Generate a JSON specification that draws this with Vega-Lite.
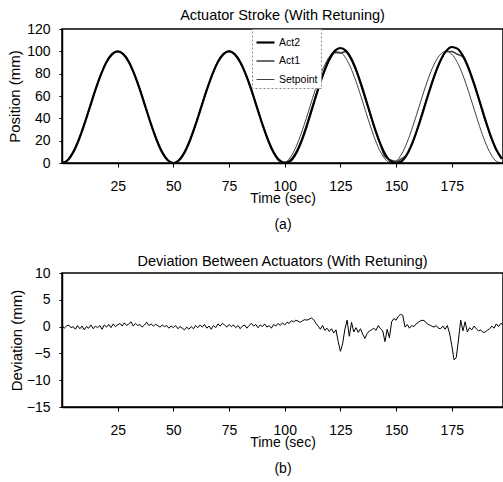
{
  "$schema": "https://vega.github.io/schema/vega-lite/v6.json",
  "autosize": {"type": "pad"},
  "padding": {"left": 6, "top": 6, "right": 0, "bottom": 0},
  "background": "white",
  "bounds": "flush",
  "spacing": 110,
  "config": {
    "font": "Liberation Sans",
    "view": {"stroke": "black", "strokeWidth": 1.5},
    "axis": {
      "grid": false, "domainColor": "black", "domainWidth": 1.5, "tickColor": "black",
      "labelColor": "black", "titleColor": "black", "labelFontSize": 14, "titleFontSize": 14,
      "titleFontWeight": "normal", "labelFont": "Liberation Sans", "titleFont": "Liberation Sans"
    },
    "axisX": {"tickSize": 4, "labelPadding": 12, "titleBaseline": "top", "titleY": 28, "titleLineHeight": 26, "labelFlush": false},
    "axisY": {"tickSize": 3, "labelPadding": 9, "titleBaseline": "middle", "titleFontSize": 15},
    "title": {"font": "Liberation Sans", "fontSize": 14.5, "fontWeight": "normal", "color": "black", "frame": "group", "baseline": "alphabetic"}
  },
  "datasets": {
    "stroke": [
      {"t":0,"s":"Setpoint","v":0},{"t":2.5,"s":"Setpoint","v":2.4},{"t":5,"s":"Setpoint","v":9.5},{"t":7.5,"s":"Setpoint","v":20.6},{"t":10,"s":"Setpoint","v":34.5},{"t":12.5,"s":"Setpoint","v":50},{"t":15,"s":"Setpoint","v":65.5},{"t":17.5,"s":"Setpoint","v":79.4},{"t":20,"s":"Setpoint","v":90.5},{"t":22.5,"s":"Setpoint","v":97.5},
      {"t":25,"s":"Setpoint","v":100},{"t":27.5,"s":"Setpoint","v":97.5},{"t":30,"s":"Setpoint","v":90.5},{"t":32.5,"s":"Setpoint","v":79.4},{"t":35,"s":"Setpoint","v":65.5},{"t":37.5,"s":"Setpoint","v":50},{"t":40,"s":"Setpoint","v":34.5},{"t":42.5,"s":"Setpoint","v":20.6},{"t":45,"s":"Setpoint","v":9.5},{"t":47.5,"s":"Setpoint","v":2.4},
      {"t":50,"s":"Setpoint","v":0},{"t":52.5,"s":"Setpoint","v":2.4},{"t":55,"s":"Setpoint","v":9.5},{"t":57.5,"s":"Setpoint","v":20.6},{"t":60,"s":"Setpoint","v":34.5},{"t":62.5,"s":"Setpoint","v":50},{"t":65,"s":"Setpoint","v":65.5},{"t":67.5,"s":"Setpoint","v":79.4},{"t":70,"s":"Setpoint","v":90.5},{"t":72.5,"s":"Setpoint","v":97.5},
      {"t":75,"s":"Setpoint","v":100},{"t":77.5,"s":"Setpoint","v":97.5},{"t":80,"s":"Setpoint","v":90.5},{"t":82.5,"s":"Setpoint","v":79.4},{"t":85,"s":"Setpoint","v":65.5},{"t":87.5,"s":"Setpoint","v":50},{"t":90,"s":"Setpoint","v":34.5},{"t":92.5,"s":"Setpoint","v":20.6},{"t":95,"s":"Setpoint","v":9.5},{"t":97.5,"s":"Setpoint","v":2.4},
      {"t":100,"s":"Setpoint","v":0.4},{"t":102.5,"s":"Setpoint","v":5.0},{"t":105,"s":"Setpoint","v":14.1},{"t":107.5,"s":"Setpoint","v":26.9},{"t":110,"s":"Setpoint","v":42.0},{"t":112.5,"s":"Setpoint","v":58.0},{"t":115,"s":"Setpoint","v":73.1},{"t":117.5,"s":"Setpoint","v":85.9},{"t":120,"s":"Setpoint","v":95.1},{"t":122.5,"s":"Setpoint","v":99.6},
      {"t":125,"s":"Setpoint","v":99.1},{"t":127.5,"s":"Setpoint","v":93.6},{"t":130,"s":"Setpoint","v":83.6},{"t":132.5,"s":"Setpoint","v":70.2},{"t":135,"s":"Setpoint","v":54.8},{"t":137.5,"s":"Setpoint","v":38.9},{"t":140,"s":"Setpoint","v":24.1},{"t":142.5,"s":"Setpoint","v":11.9},{"t":145,"s":"Setpoint","v":3.7},{"t":147.5,"s":"Setpoint","v":0.1},
      {"t":150,"s":"Setpoint","v":1.6},{"t":152.5,"s":"Setpoint","v":8.1},{"t":155,"s":"Setpoint","v":18.8},{"t":157.5,"s":"Setpoint","v":32.7},{"t":160,"s":"Setpoint","v":48.4},{"t":162.5,"s":"Setpoint","v":64.2},{"t":165,"s":"Setpoint","v":78.6},{"t":167.5,"s":"Setpoint","v":90.1},{"t":170,"s":"Setpoint","v":97.5},{"t":172.5,"s":"Setpoint","v":100},
      {"t":175,"s":"Setpoint","v":97.5},{"t":177.5,"s":"Setpoint","v":90.1},{"t":180,"s":"Setpoint","v":78.6},{"t":182.5,"s":"Setpoint","v":64.2},{"t":185,"s":"Setpoint","v":48.4},{"t":187.5,"s":"Setpoint","v":32.7},{"t":190,"s":"Setpoint","v":18.8},{"t":192.5,"s":"Setpoint","v":8.1},{"t":195,"s":"Setpoint","v":1.6},{"t":197.5,"s":"Setpoint","v":0.1},

      {"t":0,"s":"Act1","v":0.3},{"t":2.5,"s":"Act1","v":2.2},{"t":5,"s":"Act1","v":9.6},{"t":7.5,"s":"Act1","v":20.4},{"t":10,"s":"Act1","v":34.7},{"t":12.5,"s":"Act1","v":49.8},{"t":15,"s":"Act1","v":65.6},{"t":17.5,"s":"Act1","v":79.2},{"t":20,"s":"Act1","v":90.6},{"t":22.5,"s":"Act1","v":97.3},
      {"t":25,"s":"Act1","v":99.8},{"t":27.5,"s":"Act1","v":97.8},{"t":30,"s":"Act1","v":90.7},{"t":32.5,"s":"Act1","v":79.7},{"t":35,"s":"Act1","v":65.9},{"t":37.5,"s":"Act1","v":50.3},{"t":40,"s":"Act1","v":34.8},{"t":42.5,"s":"Act1","v":20.8},{"t":45,"s":"Act1","v":9.5},{"t":47.5,"s":"Act1","v":2.5},
      {"t":50,"s":"Act1","v":0},{"t":52.5,"s":"Act1","v":2.1},{"t":55,"s":"Act1","v":9.1},{"t":57.5,"s":"Act1","v":20.3},{"t":60,"s":"Act1","v":34.6},{"t":62.5,"s":"Act1","v":50.2},{"t":65,"s":"Act1","v":65.4},{"t":67.5,"s":"Act1","v":79.1},{"t":70,"s":"Act1","v":90.9},{"t":72.5,"s":"Act1","v":97.8},
      {"t":75,"s":"Act1","v":100.2},{"t":77.5,"s":"Act1","v":97.3},{"t":80,"s":"Act1","v":90.2},{"t":82.5,"s":"Act1","v":79.6},{"t":85,"s":"Act1","v":66.0},{"t":87.5,"s":"Act1","v":50.2},{"t":90,"s":"Act1","v":34.5},{"t":92.5,"s":"Act1","v":20.8},{"t":95,"s":"Act1","v":9.6},{"t":97.5,"s":"Act1","v":3.0},
      {"t":100,"s":"Act1","v":0.5},{"t":102.5,"s":"Act1","v":2.7},{"t":105,"s":"Act1","v":9.5},{"t":107.5,"s":"Act1","v":20.4},{"t":110,"s":"Act1","v":35.0},{"t":112.5,"s":"Act1","v":51.4},{"t":115,"s":"Act1","v":66.5},{"t":117.5,"s":"Act1","v":80.4},{"t":120,"s":"Act1","v":92.0},{"t":122.5,"s":"Act1","v":98.9},
      {"t":125,"s":"Act1","v":98.5},{"t":127.5,"s":"Act1","v":99.9},{"t":130,"s":"Act1","v":92.3},{"t":132.5,"s":"Act1","v":80.4},{"t":135,"s":"Act1","v":64.7},{"t":137.5,"s":"Act1","v":49.1},{"t":140,"s":"Act1","v":33.1},{"t":142.5,"s":"Act1","v":19.2},{"t":145,"s":"Act1","v":5.8},{"t":147.5,"s":"Act1","v":2.7},
      {"t":150,"s":"Act1","v":1.5},{"t":152.5,"s":"Act1","v":3.9},{"t":155,"s":"Act1","v":7.9},{"t":157.5,"s":"Act1","v":18.9},{"t":160,"s":"Act1","v":33.4},{"t":162.5,"s":"Act1","v":49.8},{"t":165,"s":"Act1","v":65.2},{"t":167.5,"s":"Act1","v":79.7},{"t":170,"s":"Act1","v":91.8},{"t":172.5,"s":"Act1","v":99.9},
      {"t":175,"s":"Act1","v":99.9},{"t":177.5,"s":"Act1","v":97.4},{"t":180,"s":"Act1","v":95.1},{"t":182.5,"s":"Act1","v":84.6},{"t":185,"s":"Act1","v":70.6},{"t":187.5,"s":"Act1","v":54.6},{"t":190,"s":"Act1","v":38.1},{"t":192.5,"s":"Act1","v":23.8},{"t":195,"s":"Act1","v":12.1},{"t":197.5,"s":"Act1","v":4.1},

      {"t":0,"s":"Act2","v":0},{"t":2.5,"s":"Act2","v":2.4},{"t":5,"s":"Act2","v":9.5},{"t":7.5,"s":"Act2","v":20.6},{"t":10,"s":"Act2","v":34.5},{"t":12.5,"s":"Act2","v":50},{"t":15,"s":"Act2","v":65.5},{"t":17.5,"s":"Act2","v":79.4},{"t":20,"s":"Act2","v":90.5},{"t":22.5,"s":"Act2","v":97.5},
      {"t":25,"s":"Act2","v":100},{"t":27.5,"s":"Act2","v":97.5},{"t":30,"s":"Act2","v":90.5},{"t":32.5,"s":"Act2","v":79.4},{"t":35,"s":"Act2","v":65.5},{"t":37.5,"s":"Act2","v":50},{"t":40,"s":"Act2","v":34.5},{"t":42.5,"s":"Act2","v":20.6},{"t":45,"s":"Act2","v":9.5},{"t":47.5,"s":"Act2","v":2.4},
      {"t":50,"s":"Act2","v":0},{"t":52.5,"s":"Act2","v":2.4},{"t":55,"s":"Act2","v":9.5},{"t":57.5,"s":"Act2","v":20.6},{"t":60,"s":"Act2","v":34.5},{"t":62.5,"s":"Act2","v":50},{"t":65,"s":"Act2","v":65.5},{"t":67.5,"s":"Act2","v":79.4},{"t":70,"s":"Act2","v":90.5},{"t":72.5,"s":"Act2","v":97.5},
      {"t":75,"s":"Act2","v":100},{"t":77.5,"s":"Act2","v":97.5},{"t":80,"s":"Act2","v":90.5},{"t":82.5,"s":"Act2","v":79.4},{"t":85,"s":"Act2","v":65.5},{"t":87.5,"s":"Act2","v":50},{"t":90,"s":"Act2","v":34.5},{"t":92.5,"s":"Act2","v":20.6},{"t":95,"s":"Act2","v":9.5},{"t":97.5,"s":"Act2","v":2.4},
      {"t":100,"s":"Act2","v":0.2},{"t":102.5,"s":"Act2","v":1.7},{"t":105,"s":"Act2","v":8.3},{"t":107.5,"s":"Act2","v":19.4},{"t":110,"s":"Act2","v":33.7},{"t":112.5,"s":"Act2","v":49.9},{"t":115,"s":"Act2","v":66.2},{"t":117.5,"s":"Act2","v":81.0},{"t":120,"s":"Act2","v":92.8},{"t":122.5,"s":"Act2","v":100.4},
      {"t":125,"s":"Act2","v":103},{"t":127.5,"s":"Act2","v":100.4},{"t":130,"s":"Act2","v":92.8},{"t":132.5,"s":"Act2","v":81.0},{"t":135,"s":"Act2","v":66.2},{"t":137.5,"s":"Act2","v":49.9},{"t":140,"s":"Act2","v":33.7},{"t":142.5,"s":"Act2","v":19.4},{"t":145,"s":"Act2","v":8.3},{"t":147.5,"s":"Act2","v":1.7},
      {"t":150,"s":"Act2","v":0},{"t":152.5,"s":"Act2","v":1.6},{"t":155,"s":"Act2","v":8.1},{"t":157.5,"s":"Act2","v":18.9},{"t":160,"s":"Act2","v":32.9},{"t":162.5,"s":"Act2","v":48.7},{"t":165,"s":"Act2","v":64.9},{"t":167.5,"s":"Act2","v":79.9},{"t":170,"s":"Act2","v":92.1},{"t":172.5,"s":"Act2","v":100.4},
      {"t":175,"s":"Act2","v":103.9},{"t":177.5,"s":"Act2","v":102.4},{"t":180,"s":"Act2","v":95.9},{"t":182.5,"s":"Act2","v":85.1},{"t":185,"s":"Act2","v":71.1},{"t":187.5,"s":"Act2","v":55.3},{"t":190,"s":"Act2","v":39.1},{"t":192.5,"s":"Act2","v":24.1},{"t":195,"s":"Act2","v":11.9},{"t":197.5,"s":"Act2","v":3.7}
    ],
    "dev": [
      {"t":0,"d":0.2},{"t":1,"d":-0.3},{"t":2,"d":0.1},{"t":3,"d":0.3},{"t":4,"d":-0.2},{"t":5,"d":0.0},{"t":6,"d":-0.5},{"t":7,"d":0.2},{"t":8,"d":-0.4},{"t":9,"d":0.1},
      {"t":10,"d":-0.6},{"t":11,"d":0.0},{"t":12,"d":-0.3},{"t":13,"d":0.3},{"t":14,"d":-0.4},{"t":15,"d":0.1},{"t":16,"d":-0.2},{"t":17,"d":0.2},{"t":18,"d":-0.5},{"t":19,"d":0.3},
      {"t":20,"d":-0.1},{"t":21,"d":0.4},{"t":22,"d":-0.2},{"t":23,"d":0.5},{"t":24,"d":0.0},{"t":25,"d":0.3},{"t":26,"d":0.6},{"t":27,"d":0.1},{"t":28,"d":0.7},{"t":29,"d":0.2},
      {"t":30,"d":0.5},{"t":31,"d":0.9},{"t":32,"d":0.1},{"t":33,"d":0.6},{"t":34,"d":0.2},{"t":35,"d":0.4},{"t":36,"d":-0.1},{"t":37,"d":0.3},{"t":38,"d":0.8},{"t":39,"d":0.2},
      {"t":40,"d":0.5},{"t":41,"d":0.1},{"t":42,"d":0.4},{"t":43,"d":0.2},{"t":44,"d":-0.1},{"t":45,"d":0.3},{"t":46,"d":0.0},{"t":47,"d":0.2},{"t":48,"d":-0.3},{"t":49,"d":0.1},
      {"t":50,"d":-0.2},{"t":51,"d":0.2},{"t":52,"d":-0.4},{"t":53,"d":0.0},{"t":54,"d":-0.3},{"t":55,"d":-0.6},{"t":56,"d":-0.1},{"t":57,"d":-0.5},{"t":58,"d":0.0},{"t":59,"d":-0.4},
      {"t":60,"d":0.2},{"t":61,"d":-0.2},{"t":62,"d":0.3},{"t":63,"d":-0.1},{"t":64,"d":0.4},{"t":65,"d":-0.3},{"t":66,"d":0.1},{"t":67,"d":-0.5},{"t":68,"d":0.2},{"t":69,"d":-0.2},
      {"t":70,"d":0.5},{"t":71,"d":0.1},{"t":72,"d":0.6},{"t":73,"d":0.3},{"t":74,"d":-0.1},{"t":75,"d":0.4},{"t":76,"d":0.0},{"t":77,"d":0.3},{"t":78,"d":-0.2},{"t":79,"d":0.2},
      {"t":80,"d":-0.4},{"t":81,"d":0.1},{"t":82,"d":0.3},{"t":83,"d":-0.3},{"t":84,"d":0.2},{"t":85,"d":0.6},{"t":86,"d":0.1},{"t":87,"d":0.4},{"t":88,"d":-0.2},{"t":89,"d":0.3},
      {"t":90,"d":0.0},{"t":91,"d":0.5},{"t":92,"d":-0.1},{"t":93,"d":0.2},{"t":94,"d":-0.3},{"t":95,"d":0.4},{"t":96,"d":0.1},{"t":97,"d":0.6},{"t":98,"d":0.2},{"t":99,"d":0.7},
      {"t":100,"d":0.3},{"t":101,"d":0.8},{"t":102,"d":0.6},{"t":103,"d":1.1},{"t":104,"d":0.9},{"t":105,"d":1.2},{"t":106,"d":1.0},{"t":107,"d":0.8},{"t":108,"d":1.1},{"t":109,"d":1.3},
      {"t":110,"d":1.2},{"t":111,"d":1.4},{"t":112,"d":1.6},{"t":113,"d":1.3},{"t":114,"d":0.6},{"t":115,"d":0.1},{"t":116,"d":-0.5},{"t":117,"d":0.2},{"t":118,"d":-0.7},{"t":119,"d":-0.3},
      {"t":120,"d":-0.9},{"t":121,"d":-0.4},{"t":122,"d":-1.2},{"t":123,"d":-0.6},{"t":124,"d":-2.8},{"t":125,"d":-4.6},{"t":126,"d":-3.2},{"t":127,"d":-0.5},{"t":128,"d":1.2},{"t":129,"d":-1.8},
      {"t":130,"d":0.8},{"t":131,"d":-1.0},{"t":132,"d":-0.2},{"t":133,"d":-1.1},{"t":134,"d":-0.4},{"t":135,"d":-1.4},{"t":136,"d":-2.2},{"t":137,"d":-1.3},{"t":138,"d":-0.8},{"t":139,"d":-0.6},
      {"t":140,"d":-0.3},{"t":141,"d":-0.7},{"t":142,"d":0.2},{"t":143,"d":-0.4},{"t":144,"d":-0.8},{"t":145,"d":-2.8},{"t":146,"d":-0.5},{"t":147,"d":-2.1},{"t":148,"d":0.9},{"t":149,"d":1.5},
      {"t":150,"d":1.2},{"t":151,"d":1.9},{"t":152,"d":2.3},{"t":153,"d":2.1},{"t":154,"d":-0.1},{"t":155,"d":0.4},{"t":156,"d":-0.3},{"t":157,"d":0.2},{"t":158,"d":0.0},{"t":159,"d":0.5},
      {"t":160,"d":0.8},{"t":161,"d":1.1},{"t":162,"d":1.2},{"t":163,"d":1.0},{"t":164,"d":0.5},{"t":165,"d":0.3},{"t":166,"d":0.1},{"t":167,"d":-0.1},{"t":168,"d":0.2},{"t":169,"d":-0.3},
      {"t":170,"d":-0.4},{"t":171,"d":0.1},{"t":172,"d":-0.5},{"t":173,"d":0.2},{"t":174,"d":-1.2},{"t":175,"d":-3.5},{"t":176,"d":-6.2},{"t":177,"d":-5.8},{"t":178,"d":-2.5},{"t":179,"d":1.2},
      {"t":180,"d":-0.8},{"t":181,"d":0.9},{"t":182,"d":-1.0},{"t":183,"d":-0.2},{"t":184,"d":-0.6},{"t":185,"d":0.1},{"t":186,"d":-0.4},{"t":187,"d":-0.8},{"t":188,"d":-0.6},{"t":189,"d":-1.1},
      {"t":190,"d":-1.0},{"t":191,"d":-0.7},{"t":192,"d":-0.4},{"t":193,"d":0.1},{"t":194,"d":-0.3},{"t":195,"d":0.5},{"t":196,"d":0.0},{"t":197,"d":0.6},{"t":198,"d":0.3}
    ]
  },
  "vconcat": [
    {
      "width": 441,
      "height": 134,
      "title": {"text": "Actuator Stroke (With Retuning)", "offset": -1},
      "data": {"name": "stroke"},
      "mark": {"type": "line", "interpolate": "monotone"},
      "encoding": {
        "x": {"field": "t", "type": "quantitative", "scale": {"domain": [0, 198], "nice": false, "zero": false},
              "axis": {"values": [25, 50, 75, 100, 125, 150, 175], "title": ["Time (sec)", "(a)"]}},
        "y": {"field": "v", "type": "quantitative", "scale": {"domain": [0, 120], "nice": false},
              "axis": {"values": [0, 20, 40, 60, 80, 100, 120], "title": "Position (mm)", "titleX": -48}},
        "color": {"field": "s", "type": "nominal",
                  "scale": {"domain": ["Act2", "Act1", "Setpoint"], "range": ["#000000", "#3a3a3a", "#111111"]},
                  "legend": {"title": null, "orient": "none", "legendX": 190, "legendY": 0, "symbolType": "stroke", "symbolSize": 324,
                             "labelFontSize": 10.5, "labelColor": "black", "strokeColor": "#888888", "fillColor": "white",
                             "padding": 3, "rowPadding": 3, "labelOffset": 3,
                             "encode": {"legend": {"update": {"strokeDash": {"value": [2, 2]}}}}}},
        "strokeWidth": {"field": "s", "type": "nominal",
                        "scale": {"domain": ["Act2", "Act1", "Setpoint"], "range": [2.2, 0.8, 1.1]},
                        "legend": {"title": null, "orient": "none", "legendX": 190, "legendY": 0, "symbolType": "stroke", "symbolSize": 324,
                                   "labelFontSize": 10.5, "labelColor": "black", "strokeColor": "#888888", "fillColor": "white",
                                   "padding": 3, "rowPadding": 3, "labelOffset": 3,
                                   "encode": {"legend": {"update": {"strokeDash": {"value": [2, 2]}}}}}}
      }
    },
    {
      "width": 441,
      "height": 134,
      "title": {"text": "Deviation Between Actuators (With Retuning)", "offset": -3.5},
      "data": {"name": "dev"},
      "mark": {"type": "line", "color": "black", "strokeWidth": 1},
      "encoding": {
        "x": {"field": "t", "type": "quantitative", "scale": {"domain": [0, 198], "nice": false, "zero": false},
              "axis": {"values": [25, 50, 75, 100, 125, 150, 175], "title": ["Time (sec)", "(b)"]}},
        "y": {"field": "d", "type": "quantitative", "scale": {"domain": [-15, 10], "nice": false, "zero": false},
              "axis": {"values": [-15, -10, -5, 0, 5, 10], "title": "Deviation (mm)", "titleX": -46}}
      }
    }
  ]
}
